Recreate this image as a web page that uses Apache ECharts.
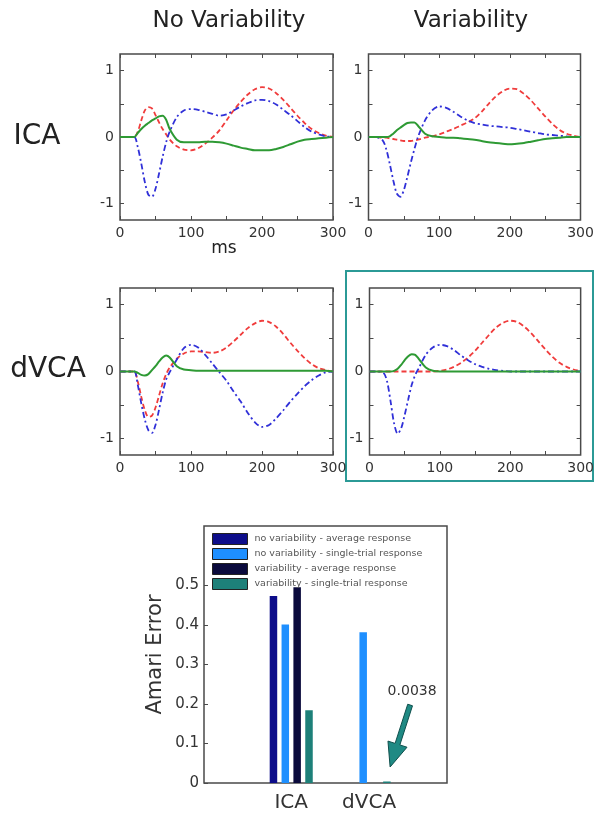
<!DOCTYPE html>
<html><head><meta charset="utf-8">
<script src="https://cdn.jsdelivr.net/npm/echarts@6/dist/echarts.min.js"></script>
<style>html,body{margin:0;padding:0;background:#fff}#c{width:597px;height:814px}</style>
</head><body><div id="c"></div>
<script>
// ---------- data ----------
const timesMs = [0,10,20,25,30,35,40,45,50,55,60,65,70,80,90,100,110,120,130,140,150,160,170,180,190,200,210,220,230,240,250,260,270,280,290,300];

const icaNoVarRed   = [0,0,0,0.08,0.25,0.4,0.45,0.43,0.33,0.22,0.12,0.04,-0.04,-0.14,-0.19,-0.2,-0.17,-0.1,-0.01,0.1,0.25,0.4,0.53,0.64,0.72,0.75,0.73,0.66,0.56,0.44,0.32,0.21,0.12,0.06,0.02,0];
const icaNoVarBlue  = [0,0,0,-0.15,-0.4,-0.68,-0.87,-0.9,-0.78,-0.55,-0.3,-0.08,0.08,0.3,0.4,0.42,0.41,0.38,0.35,0.32,0.34,0.4,0.46,0.51,0.55,0.56,0.54,0.49,0.41,0.33,0.24,0.15,0.08,0.04,0.01,0];
const icaNoVarGreen = [0,0,0,0.06,0.12,0.17,0.21,0.25,0.28,0.31,0.32,0.26,0.12,-0.04,-0.08,-0.08,-0.08,-0.07,-0.07,-0.08,-0.1,-0.13,-0.16,-0.18,-0.2,-0.2,-0.2,-0.18,-0.15,-0.11,-0.07,-0.04,-0.03,-0.02,-0.01,0];

const icaVarRed   = [0,0,-0.01,-0.01,-0.02,-0.03,-0.04,-0.05,-0.06,-0.06,-0.06,-0.05,-0.04,-0.01,0.01,0.04,0.08,0.12,0.17,0.22,0.28,0.38,0.5,0.61,0.69,0.73,0.72,0.65,0.55,0.43,0.31,0.2,0.11,0.05,0.02,0];
const icaVarBlue  = [0,0,-0.05,-0.18,-0.4,-0.65,-0.85,-0.9,-0.8,-0.6,-0.38,-0.18,0,0.25,0.4,0.46,0.44,0.38,0.31,0.25,0.21,0.19,0.17,0.16,0.15,0.14,0.12,0.1,0.08,0.06,0.04,0.03,0.02,0.01,0,0];
const icaVarGreen = [0,0,0,0,0.01,0.05,0.1,0.14,0.18,0.21,0.22,0.22,0.17,0.05,0.01,0,-0.01,-0.01,-0.02,-0.03,-0.04,-0.06,-0.08,-0.09,-0.1,-0.11,-0.1,-0.09,-0.07,-0.05,-0.03,-0.02,-0.01,0,0,0];

const dvcaNoVarRed   = [0,0,0,-0.15,-0.38,-0.58,-0.68,-0.66,-0.54,-0.36,-0.18,-0.04,0.06,0.19,0.27,0.3,0.3,0.29,0.28,0.3,0.36,0.45,0.55,0.65,0.72,0.76,0.74,0.67,0.56,0.43,0.31,0.2,0.11,0.05,0.02,0];
const dvcaNoVarBlue  = [0,0,0,-0.2,-0.48,-0.72,-0.88,-0.92,-0.8,-0.57,-0.32,-0.12,-0.01,0.18,0.35,0.4,0.36,0.25,0.12,-0.01,-0.14,-0.3,-0.45,-0.62,-0.76,-0.83,-0.8,-0.7,-0.58,-0.45,-0.33,-0.22,-0.13,-0.06,-0.01,0];
const dvcaNoVarGreen = [0,0,0,-0.02,-0.05,-0.06,-0.04,0.02,0.08,0.15,0.21,0.24,0.21,0.08,0.03,0.02,0.01,0.01,0.01,0.01,0.01,0.01,0.01,0.01,0.01,0.01,0.01,0.01,0.01,0.01,0.01,0.01,0.01,0.01,0.01,0];

const dvcaVarRed   = [0,0,0,0,0,0,0,0,0,0,0,0,0,0,0,0.01,0.03,0.07,0.13,0.21,0.31,0.43,0.55,0.66,0.73,0.76,0.74,0.67,0.57,0.45,0.33,0.22,0.13,0.07,0.03,0.01];
const dvcaVarBlue  = [0,0,-0.02,-0.15,-0.45,-0.78,-0.93,-0.85,-0.65,-0.42,-0.2,-0.05,0.05,0.25,0.36,0.4,0.38,0.32,0.24,0.17,0.11,0.07,0.04,0.02,0.01,0,0,0,0,0,0,0,0,0,0,0];
const dvcaVarGreen = [0,0,0,0,0,0.01,0.04,0.1,0.17,0.23,0.26,0.25,0.19,0.06,0.01,0,0,0,0,0,0,0,0,0,0,0,0,0,0,0,0,0,0,0,0,0];

const columnTitles = ['No Variability', 'Variability'];
const rowLabels = ['ICA', 'dVCA'];
const xAxisName = 'ms';
const xTickLabels = [0, 100, 200, 300];
const yTickMarks = [-1, -0.5, 0, 0.5, 1];
const yTickLabels = [-1, 0, 1];

const barCategories = ['ICA', 'dVCA'];
const barCategoryPos = [1, 2];
const barSeriesNames = ['no variability - average response', 'no variability - single-trial response', 'variability - average response', 'variability - single-trial response'];
const noVarAverage = [0.473, null];
const noVarSingle  = [0.401, 0.381];
const varAverage   = [0.495, null];
const varSingle    = [0.184, 0.0038];
const barYTicks = [0, 0.1, 0.2, 0.3, 0.4, 0.5];
const barYName = 'Amari Error';
const annotationText = '0.0038';

// ---------- chart ----------
const FONT = 'DejaVu Sans';
const FRAME = '#4a4a4a';
const TXT = '#333';
const RED = '#f03c3c', BLUE = '#3030d8', GREEN = '#2e9a34';
const BAR_COLORS = ['#0d0d8a', '#1e8fff', '#0a0a3c', '#1d8079'];

const panels = [
  {box:{left:120, top:54, width:213, height:166}, red:icaNoVarRed, blue:icaNoVarBlue, green:icaNoVarGreen},
  {box:{left:368.5, top:54, width:212, height:166}, red:icaVarRed, blue:icaVarBlue, green:icaVarGreen},
  {box:{left:120, top:288, width:213, height:167}, red:dvcaNoVarRed, blue:dvcaNoVarBlue, green:dvcaNoVarGreen},
  {box:{left:369.5, top:288, width:212, height:167}, red:dvcaVarRed, blue:dvcaVarBlue, green:dvcaVarGreen}
];

const grids = [], xAxes = [], yAxes = [], series = [];
const tick = () => ({show:true, inside:true, length:4, lineStyle:{color:FRAME, width:1}});
const noLine = {show:false, onZero:false};
const toXY = vals => timesMs.map((t, k) => [t, vals[k]]);

panels.forEach((p, i) => {
  grids.push(Object.assign({show:true, borderColor:FRAME, borderWidth:1.5, backgroundColor:'transparent'}, p.box));
  xAxes.push({type:'value', gridIndex:i, position:'bottom', min:0, max:300, interval:50,
    axisLine:noLine, axisTick:tick(), splitLine:{show:false},
    axisLabel:{customValues:xTickLabels, fontSize:14, color:TXT, fontFamily:FONT, margin:6}});
  xAxes.push({type:'value', gridIndex:i, position:'top', min:0, max:300, interval:50,
    axisLine:noLine, axisTick:tick(), splitLine:{show:false}, axisLabel:{show:false}});
  yAxes.push({type:'value', gridIndex:i, position:'left', min:-1.25, max:1.25,
    axisLine:noLine, axisTick:Object.assign(tick(), {customValues:yTickMarks}), splitLine:{show:false},
    axisLabel:{customValues:yTickLabels, fontSize:14, color:TXT, fontFamily:FONT, margin:6}});
  yAxes.push({type:'value', gridIndex:i, position:'right', min:-1.25, max:1.25,
    axisLine:noLine, axisTick:Object.assign(tick(), {customValues:yTickMarks}), splitLine:{show:false},
    axisLabel:{show:false}});
  const common = {type:'line', xAxisIndex:2*i, yAxisIndex:2*i, showSymbol:false, smooth:0.3, silent:true};
  series.push(Object.assign({}, common, {name:'red'+i, data:toXY(p.red), lineStyle:{color:RED, width:1.8, type:[5,3]}}));
  series.push(Object.assign({}, common, {name:'blue'+i, data:toXY(p.blue), lineStyle:{color:BLUE, width:1.8, type:[6,3,2,3]}}));
  series.push(Object.assign({}, common, {name:'green'+i, data:toXY(p.green), lineStyle:{color:GREEN, width:2}}));
});

// bar chart
grids.push({show:true, borderColor:FRAME, borderWidth:1.5, backgroundColor:'transparent', left:204, top:526, width:243, height:257});
xAxes.push({type:'value', gridIndex:4, min:-0.12, max:3,
  axisLine:noLine, axisTick:{show:false}, splitLine:{show:false},
  axisLabel:{customValues:barCategoryPos, formatter:v => barCategories[barCategoryPos.indexOf(v)] || '',
    fontSize:20, color:TXT, fontFamily:FONT, margin:10}});
yAxes.push({type:'value', gridIndex:4, min:0, max:0.65,
  axisLine:noLine, splitLine:{show:false},
  axisTick:{show:true, inside:true, length:4, customValues:barYTicks, lineStyle:{color:FRAME}},
  axisLabel:{customValues:barYTicks, formatter:v => v === 0 ? '0' : v.toFixed(1), fontSize:15, color:TXT, fontFamily:FONT, margin:5},
  name:barYName, nameLocation:'middle', nameGap:38, nameTextStyle:{fontSize:21, color:TXT, fontFamily:FONT}});

[noVarAverage, noVarSingle, varAverage, varSingle].forEach((vals, k) => {
  series.push({type:'bar', name:barSeriesNames[k], xAxisIndex:8, yAxisIndex:8,
    data:barCategoryPos.map((x, j) => [x, vals[j]]),
    barWidth:7.5, barGap:'58%', itemStyle:{color:BAR_COLORS[k]}, silent:true});
});

const baseGraphics = [
  {type:'text', x:229, y:21, style:{text:columnTitles[0], font:'23px "DejaVu Sans"', fill:'#222', align:'center', verticalAlign:'middle'}},
  {type:'text', x:471, y:21, style:{text:columnTitles[1], font:'23px "DejaVu Sans"', fill:'#222', align:'center', verticalAlign:'middle'}},
  {type:'text', x:37, y:137, style:{text:rowLabels[0], font:'28px "DejaVu Sans"', fill:'#222', align:'center', verticalAlign:'middle'}},
  {type:'text', x:48, y:370, style:{text:rowLabels[1], font:'28px "DejaVu Sans"', fill:'#222', align:'center', verticalAlign:'middle'}},
  {type:'text', x:224, y:249, style:{text:xAxisName, font:'17px "DejaVu Sans"', fill:'#222', align:'center', verticalAlign:'middle'}},
  {type:'rect', shape:{x:346, y:271, width:247, height:210}, style:{fill:'none', stroke:'#2b9a96', lineWidth:2}}
];

const option = {
  animation:false,
  backgroundColor:'#fff',
  textStyle:{fontFamily:FONT},
  grid:grids, xAxis:xAxes, yAxis:yAxes, series:series,
  legend:{data:barSeriesNames, orient:'vertical', left:212, top:533, padding:0,
    itemWidth:35, itemHeight:11, itemGap:3, icon:'rect', selectedMode:false,
    itemStyle:{borderColor:'#222', borderWidth:1},
    textStyle:{fontSize:9.5, color:'#555', fontFamily:FONT, lineHeight:11, padding:[0,0,0,2]}},
  graphic:baseGraphics
};

const chart = echarts.init(document.getElementById('c'), null, {renderer:'canvas', width:597, height:814});
chart.setOption(option);

// annotation arrow anchored to the dVCA category baseline
const base = chart.convertToPixel({xAxisIndex:8, yAxisIndex:8}, [barCategoryPos[1], 0]);
const tip = [base[0] + 21, base[1] - 16];
const tail = [base[0] + 41, base[1] - 78];
const dx = tip[0] - tail[0], dy = tip[1] - tail[1];
const len = Math.hypot(dx, dy);
const ux = dx / len, uy = dy / len, nx = -uy, ny = ux;
const headLen = 24, headHalf = 10, shaftHalf = 2.5;
const hb = [tip[0] - ux * headLen, tip[1] - uy * headLen];
const arrowPts = [
  [tail[0] + nx * shaftHalf, tail[1] + ny * shaftHalf],
  [hb[0] + nx * shaftHalf, hb[1] + ny * shaftHalf],
  [hb[0] + nx * headHalf, hb[1] + ny * headHalf],
  tip,
  [hb[0] - nx * headHalf, hb[1] - ny * headHalf],
  [hb[0] - nx * shaftHalf, hb[1] - ny * shaftHalf],
  [tail[0] - nx * shaftHalf, tail[1] - ny * shaftHalf]
];
chart.setOption({graphic: baseGraphics.concat([
  {type:'polygon', shape:{points:arrowPts}, style:{fill:'#1f8a84', stroke:'#0f4f4c', lineWidth:1}},
  {type:'text', x:base[0] + 43, y:base[1] - 92, style:{text:annotationText, font:'14px "DejaVu Sans"', fill:TXT, align:'center', verticalAlign:'middle'}}
])});
</script>
</body></html>
